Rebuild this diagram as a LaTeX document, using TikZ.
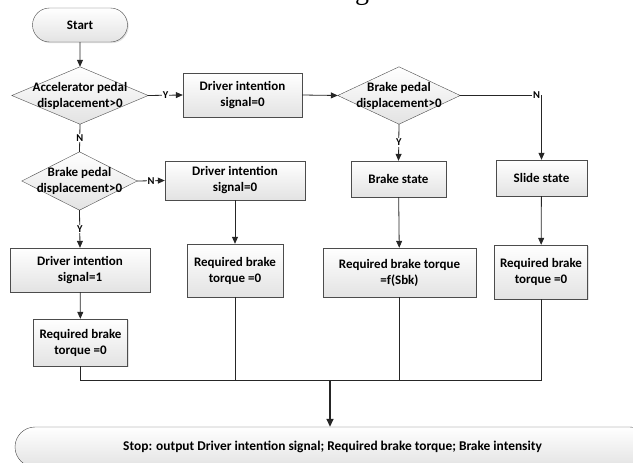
\documentclass[tikz,border=0pt]{standalone}
\usepackage{fontspec}
\setmainfont{Carlito}
\newfontfamily\titlefont{Liberation Serif}
\usetikzlibrary{arrows.meta,shapes.misc,shadows,backgrounds}

\begin{document}
\begin{tikzpicture}[x=1pt,y=-1pt,
  box/.style={draw=gray!60!black, top color=white, bottom color=gray!22,
    align=center, inner sep=0pt, font=\fontsize{13}{16}\selectfont\bfseries,
    drop shadow={shadow xshift=1.2pt,shadow yshift=-1.2pt,fill=gray!45}},
  term/.style={box, rounded rectangle},
  decision/.style={align=center, inner sep=0pt, font=\fontsize{13}{16}\selectfont\bfseries},
  dia/.style={draw=gray!60!black, top color=white, bottom color=gray!22},
  line/.style={draw=gray!30!black, line width=0.8pt},
  arr/.style={line, -{Triangle[length=7pt,width=6pt]}},
  lab/.style={font=\fontsize{10.5}{12}\selectfont\bfseries, fill=white, inner sep=1pt}]
\useasboundingbox (0,0) rectangle (633,463);
\node[font=\titlefont\fontsize{28}{30}\selectfont, anchor=south, inner sep=0pt] (ttl) at (362,5.5) {g};
% left column
\node[term, minimum width=95, minimum height=34] (start) at (80,25) {Start};
\node[decision, minimum width=136, minimum height=57] (d1) at (80,95.5) {Accelerator pedal\\displacement>0};
\node[decision, minimum width=115, minimum height=58] (d2) at (79.5,181) {Brake pedal\\displacement>0};
\node[box, minimum width=140, minimum height=44] (di1) at (80,270) {Driver intention\\signal=1};
\node[box, minimum width=94, minimum height=47] (rbt1) at (80.5,342.5) {Required brake\\torque =0};
% middle column
\node[box, minimum width=119, minimum height=44] (di0a) at (242.5,95) {Driver intention\\signal=0};
\node[box, minimum width=140, minimum height=39] (di0b) at (235,180.5) {Driver intention\\signal=0};
\node[box, minimum width=96, minimum height=53] (rbt2) at (235,270.5) {Required brake\\torque =0};
% right columns
\node[decision, minimum width=122, minimum height=57] (d3) at (399,95.5) {Brake pedal\\displacement>0};
\node[box, minimum width=95, minimum height=36] (brake) at (398.5,179) {Brake state};
\node[box, minimum width=91, minimum height=36] (slide) at (541.5,178) {Slide state};
\node[box, minimum width=153, minimum height=49] (rbtf) at (399.5,272.5) {Required brake torque\\=f(Sbk)};
\node[box, minimum width=93, minimum height=54] (rbt3) at (541,272) {Required brake\\torque =0};
% stop
\node[term, minimum width=635, minimum height=40, drop shadow={opacity=0},
  font=\fontsize{13.4}{16}\selectfont\bfseries] (stop) at (332.5,447)
  {Stop: output Driver intention signal; Required brake torque; Brake intensity};
\coordinate (join) at (330,380);

\begin{scope}[on background layer]
\foreach \d in {d1,d2,d3}
  \draw[dia] (\d.north) -- (\d.east) -- (\d.south) -- (\d.west) -- cycle;
\end{scope}

\draw[arr] (start) -- (d1);
\draw[arr] (d1.east) -- node[lab]{Y} (di0a.west);
\draw[arr] (di0a.east) -- (d3.west);
\draw[arr] (d3.east) -| node[lab,pos=0.47]{N} (slide.north);
\draw[arr] (d3.south) -- node[lab]{Y} (brake.north);
\draw[line] (d1.south) -- node[lab]{N} (d2.north);
\draw[arr] (d2.east) -- node[lab]{N} (di0b.west);
\draw[arr] (d2.south) -- node[lab]{Y} (di1.north);
\draw[arr] (di1) -- (rbt1);
\draw[arr] (di0b) -- (rbt2);
\draw[arr] (brake) -- (rbtf);
\draw[arr] (slide) -- (rbt3);
\draw[line] (rbt1.south) |- (join);
\draw[line] (rbt3.south) |- (join);
\draw[line] (rbt2.south) -- (rbt2.south |- join);
\draw[line] (rbtf.south) -- (rbtf.south |- join);
\draw[line, line width=1.6pt, -{Triangle[length=8pt,width=7pt]}] (join) -- (join |- stop.north);
\end{tikzpicture}
\end{document}
